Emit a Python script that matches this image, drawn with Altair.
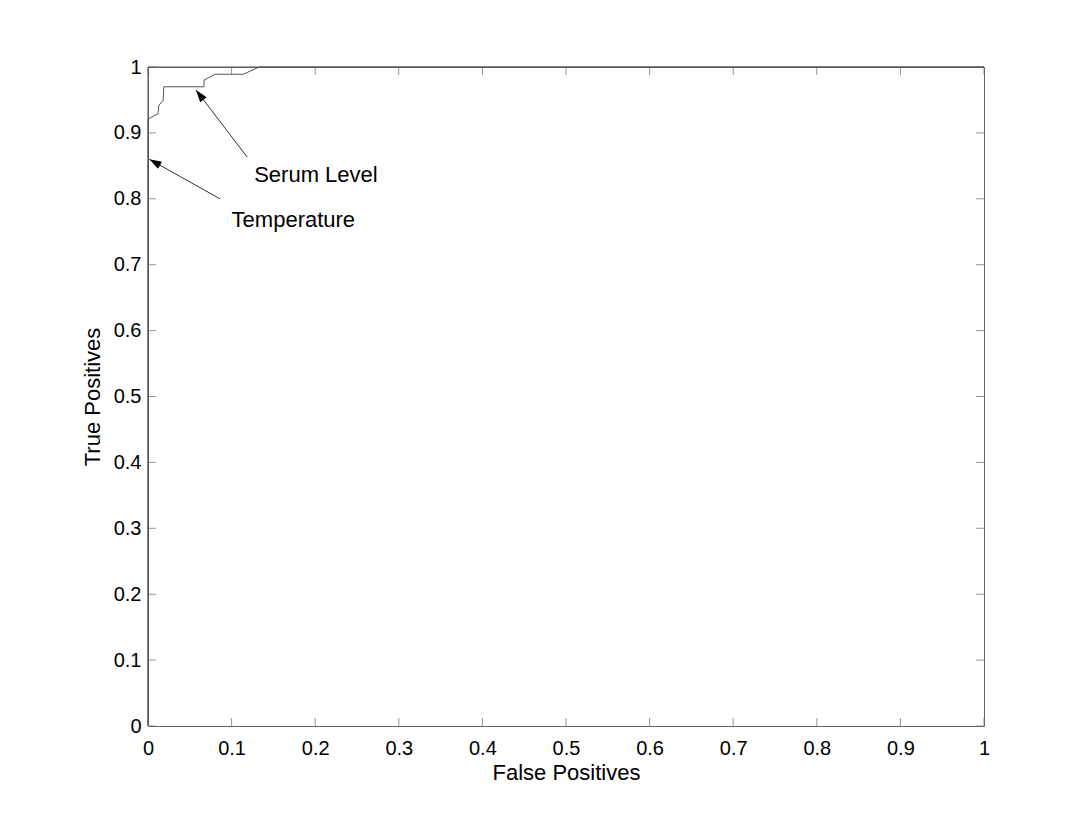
import altair as alt
import pandas as pd

# ROC curve data (False Positive rate, True Positive rate)
serum_fp = [0.0, 0.0, 0.012, 0.013, 0.018, 0.019, 0.067, 0.067, 0.080, 0.114, 0.133, 1.0]
serum_tp = [0.0, 0.921, 0.929, 0.942, 0.949, 0.970, 0.970, 0.980, 0.989, 0.989, 1.0, 1.0]
temp_fp = [0.0, 0.0, 1.0]
temp_tp = [0.0, 1.0, 1.0]

tick_values = [0, 0.1, 0.2, 0.3, 0.4, 0.5, 0.6, 0.7, 0.8, 0.9, 1]

# annotations: label, text position, arrow tail, arrow tip (data units)
ann_labels = ["Serum Level", "Temperature"]
ann_text_x = [0.127, 0.100]
ann_text_y = [0.826, 0.757]
ann_tail_x = [0.1188, 0.0861]
ann_tail_y = [0.863, 0.800]
ann_tip_x = [0.0574, 0.0016]
ann_tip_y = [0.965, 0.860]
ann_angle = [322.7, 299.5]

W, H = 836, 659
FONT = "Liberation Sans"
FRAME = "#666666"

rows = []
for i, (a, b) in enumerate(zip(serum_fp, serum_tp)):
    rows.append({"series": "Serum Level", "order": i, "fp": a, "tp": b})
for i, (a, b) in enumerate(zip(temp_fp, temp_tp)):
    rows.append({"series": "Temperature", "order": i, "fp": a, "tp": b})
curves = pd.DataFrame(rows)

ann = pd.DataFrame({
    "label": ann_labels, "tx": ann_text_x, "ty": ann_text_y,
    "x1": ann_tail_x, "y1": ann_tail_y, "x2": ann_tip_x, "y2": ann_tip_y,
    "angle": ann_angle,
})
ticks = pd.DataFrame({"v": tick_values})

xs = alt.Scale(domain=[0, 1], nice=False, zero=False)
ys = alt.Scale(domain=[0, 1], nice=False, zero=False)

common_axis = dict(grid=False, ticks=False, tickSize=0, domain=False, labelFlush=False,
                   labelFont=FONT, titleFont=FONT, labelFontSize=20, titleFontSize=22,
                   labelColor="black", titleColor="black", titleFontWeight="normal")
x_axis = alt.Axis(values=tick_values, format="~g", title="False Positives",
                  labelPadding=12, titlePadding=4, **common_axis)
y_axis = alt.Axis(values=tick_values, format="~g", title="True Positives",
                  labelPadding=7, titlePadding=9, **common_axis)

lines = alt.Chart(curves).mark_line(color="#555555", strokeWidth=1).encode(
    x=alt.X("fp:Q", scale=xs, axis=x_axis),
    y=alt.Y("tp:Q", scale=ys, axis=y_axis),
    detail="series:N",
    order="order:Q",
)

tk = dict(color=FRAME, thickness=1, size=8)
ticks_bottom = alt.Chart(ticks).mark_tick(**tk).encode(
    x=alt.X("v:Q", scale=xs), y=alt.value(H - 4))
ticks_top = alt.Chart(ticks).mark_tick(**tk).encode(
    x=alt.X("v:Q", scale=xs), y=alt.value(4))
ticks_left = alt.Chart(ticks).mark_tick(**tk).encode(
    y=alt.Y("v:Q", scale=ys), x=alt.value(4))
ticks_right = alt.Chart(ticks).mark_tick(**tk).encode(
    y=alt.Y("v:Q", scale=ys), x=alt.value(W - 4))

arrows = alt.Chart(ann).mark_rule(color="#333333", strokeWidth=1).encode(
    x=alt.X("x1:Q", scale=xs), y=alt.Y("y1:Q", scale=ys),
    x2="x2:Q", y2="y2:Q")
heads = alt.Chart(ann).mark_point(
    shape="M0,0L-0.33,1L0.33,1Z", filled=True, color="black", opacity=1, size=600
).encode(x=alt.X("x2:Q", scale=xs), y=alt.Y("y2:Q", scale=ys),
         angle=alt.Angle("angle:Q", scale=None))
texts = alt.Chart(ann).mark_text(
    align="left", baseline="alphabetic", font=FONT, fontSize=22, color="black"
).encode(x=alt.X("tx:Q", scale=xs), y=alt.Y("ty:Q", scale=ys), text="label:N")

chart = alt.layer(
    lines, ticks_bottom, ticks_top, ticks_left, ticks_right, arrows, heads, texts
).properties(
    width=W, height=H,
    background="white",
    autosize=alt.AutoSizeParams(type="none"),
    padding={"left": 140, "top": 59, "right": 70, "bottom": 70},
).configure_view(
    stroke=FRAME, strokeWidth=1
)

chart.save("out.html", embed_options={"renderer": "svg", "actions": False})
